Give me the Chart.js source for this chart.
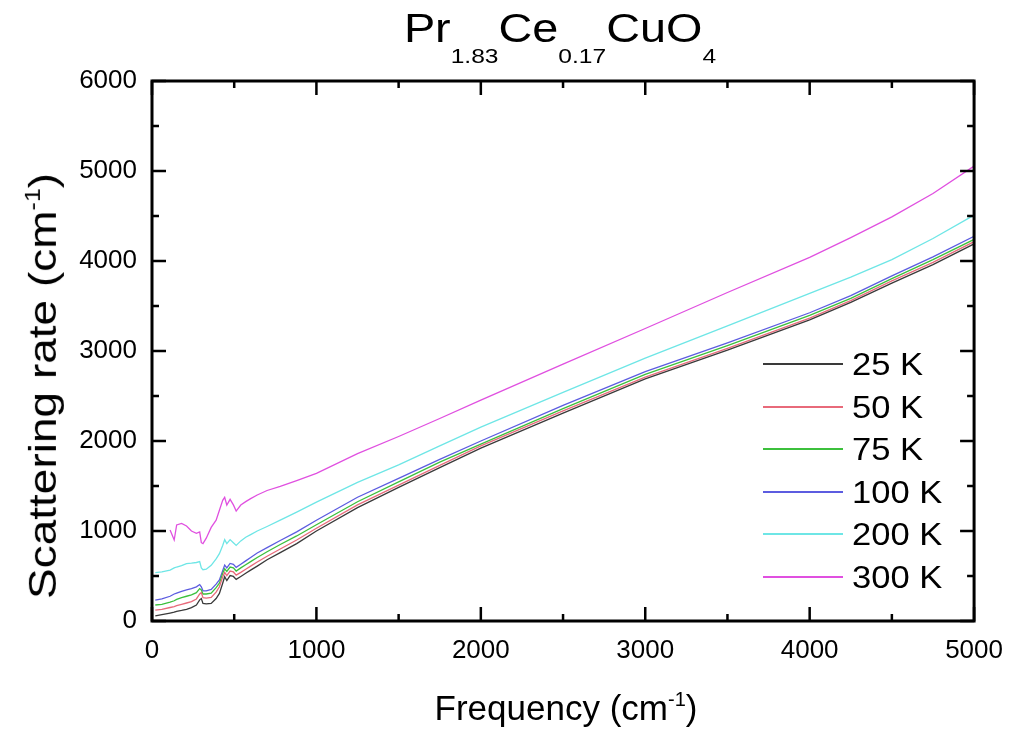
<!DOCTYPE html>
<html><head><meta charset="utf-8">
<script src="https://cdn.jsdelivr.net/npm/chart.js@4/dist/chart.umd.min.js"></script>
<style>
html,body{margin:0;padding:0;background:#fff;}
#wrap{position:relative;width:1017px;height:731px;overflow:hidden;font-family:"Liberation Sans",Arial,sans-serif;color:#000;}
canvas{position:absolute;left:0;top:0;}
.ov{position:absolute;white-space:nowrap;line-height:1;}
#title{left:560px;top:8px;font-size:40px;transform:translateX(-50%) scaleX(1.17);}
#title sub{font-size:21px;vertical-align:baseline;position:relative;top:21px;}
#xt{left:566px;top:690px;font-size:35px;transform:translateX(-50%) scaleX(1.0);}
#xt sup{font-size:20px;vertical-align:baseline;position:relative;top:-14px;}
#yt sup{font-size:25px;vertical-align:baseline;position:relative;top:-19px;}
#ytw{position:absolute;left:42px;top:386px;width:0;height:0;}
#yt{left:0;top:0;font-size:46px;transform-origin:0 0;transform:scaleX(0.85) rotate(-90deg) translate(-50%,-50%);}
.lg{position:absolute;font-size:32px;line-height:1;white-space:nowrap;transform-origin:0 50%;transform:translateY(-50%) scaleX(1.08);}
.ll{position:absolute;height:2px;}
</style></head><body>
<div id="wrap"><canvas id="c" width="1017" height="731" style="width:1017px;height:731px"></canvas>
<div id="title" class="ov">Pr<sub>1.83</sub>Ce<sub>0.17</sub>CuO<sub>4</sub></div>
<div id="xt" class="ov">Frequency (cm<sup>-1</sup>)</div>
<div id="ytw"><div id="yt" class="ov">Scattering rate (cm<sup>-1</sup>)</div></div>
</div>
<script>
// frequency grid (cm^-1)
const freq = [20,60,110,135,150,180,210,240,270,290,300,310,330,360,390,410,430,442,455,475,495,512,540,570,600,640,700,780,880,1000,1250,1500,1750,2000,2500,3000,3500,4000,4250,4500,4750,5000];
// scattering rate series (cm^-1)
const r25  = [56,70,88,98,108,118,130,148,178,235,250,195,190,196,250,307,420,492,450,505,495,463,495,530,565,610,680,760,860,1000,1260,1485,1705,1920,2310,2690,3010,3345,3540,3755,3960,4190];
const r50  = [120,130,150,160,170,185,200,215,245,300,315,260,255,262,320,380,490,540,505,555,545,510,540,575,610,655,720,800,900,1030,1290,1510,1730,1945,2335,2710,3030,3365,3560,3780,3985,4215];
const r75  = [178,185,210,225,240,260,275,290,315,360,345,300,300,310,370,420,530,580,550,600,590,555,590,625,660,705,770,850,945,1070,1325,1545,1765,1965,2360,2740,3060,3395,3585,3805,4015,4240];
const r100 = [233,245,275,300,310,330,345,360,380,405,380,335,335,350,410,456,560,622,590,640,630,596,630,668,705,755,815,895,990,1120,1375,1585,1795,2000,2395,2770,3090,3425,3615,3835,4045,4275];
const r200 = [537,545,565,590,600,615,637,642,650,660,590,570,575,618,690,748,840,904,860,904,870,840,890,930,960,1000,1050,1120,1210,1320,1540,1735,1945,2155,2540,2920,3280,3640,3820,4015,4250,4510];
const r300 = [null,null,1011,900,1067,1085,1056,1000,975,990,870,860,920,1040,1120,1230,1340,1374,1289,1352,1290,1222,1289,1326,1360,1400,1450,1495,1560,1640,1860,2050,2250,2455,2855,3250,3650,4040,4260,4490,4750,5055];
const seriesLabels = ['25 K','50 K','75 K','100 K','200 K','300 K'];
const seriesValues = [r25, r50, r75, r100, r200, r300];
const seriesColors = ['#3a3a3a','#e86a7a','#3cc03c','#5c5ce0','#6ee6e6','#e050e0'];
const xTicks = {min:0, max:5000, step:1000};
const yTicks = {min:0, max:6000, step:1000};

const datasets = seriesLabels.map((lab, i) => ({
  label: lab,
  data: freq.map((f, j) => ({x: f, y: seriesValues[i][j]})).filter(p => p.y !== null),
  borderColor: seriesColors[i],
  backgroundColor: seriesColors[i],
  borderWidth: 1.3,
  pointRadius: 0,
  tension: 0,
  fill: false
}));

const framePlugin = {
  id: 'frame',
  afterDatasetsDraw(chart) {
    const {ctx, chartArea: a, scales: {x, y}} = chart;
    ctx.save();
    ctx.strokeStyle = '#000';
    ctx.lineWidth = 2.5;
    ctx.beginPath();
    const xv = x.ticks.map(t => t.value);
    const yv = y.ticks.map(t => t.value);
    const addMinor = arr => { const out = []; arr.forEach((v, k) => { out.push([v, 14]); if (k < arr.length - 1) out.push([(v + arr[k+1]) / 2, 7]); }); return out; };
    addMinor(xv).forEach(([v, L]) => {
      const p = x.getPixelForValue(v);
      ctx.moveTo(p, a.bottom); ctx.lineTo(p, a.bottom - L);
      ctx.moveTo(p, a.top); ctx.lineTo(p, a.top + L);
    });
    addMinor(yv).forEach(([v, L]) => {
      const p = y.getPixelForValue(v);
      ctx.moveTo(a.left, p); ctx.lineTo(a.left + L, p);
      ctx.moveTo(a.right, p); ctx.lineTo(a.right - L, p);
    });
    ctx.stroke();
    ctx.lineWidth = 3;
    ctx.strokeRect(a.left, a.top, a.right - a.left, a.bottom - a.top);
    ctx.restore();
  }
};

const tickFont = {family: '"Liberation Sans", Arial, sans-serif', size: 26};
const plain = v => String(v);
const chart = new Chart(document.getElementById('c'), {
  type: 'line',
  data: {datasets},
  options: {
    responsive: false,
    animation: false,
    devicePixelRatio: 1,
    layout: {padding: {top: 81, right: 39, left: 0, bottom: 0}},
    plugins: {legend: {display: false}, title: {display: false}, tooltip: {enabled: false}},
    scales: {
      x: {
        type: 'linear', min: xTicks.min, max: xTicks.max,
        ticks: {stepSize: xTicks.step, font: tickFont, color: '#000', padding: 14, maxRotation: 0, callback: plain},
        grid: {display: false, drawTicks: false}, border: {display: false},
        afterFit(s) { s.height = 110; }
      },
      y: {
        type: 'linear', min: yTicks.min, max: yTicks.max,
        ticks: {stepSize: yTicks.step, font: tickFont, color: '#000', padding: 15, callback: plain},
        grid: {display: false, drawTicks: false}, border: {display: false},
        afterFit(s) { s.width = 152; }
      }
    }
  },
  plugins: [framePlugin]
});

// legend built from the dataset labels/colours
const wrap = document.getElementById('wrap');
chart.data.datasets.forEach((ds, i) => {
  const yc = 364 + i * 42.6;
  const ln = document.createElement('div');
  ln.className = 'll';
  ln.style.left = '763px'; ln.style.width = '80px';
  ln.style.top = (yc - 1) + 'px';
  ln.style.background = ds.borderColor;
  wrap.appendChild(ln);
  const tx = document.createElement('div');
  tx.className = 'lg';
  tx.style.left = '852px'; tx.style.top = yc + 'px';
  tx.textContent = ds.label;
  wrap.appendChild(tx);
});
</script>
</body></html>
